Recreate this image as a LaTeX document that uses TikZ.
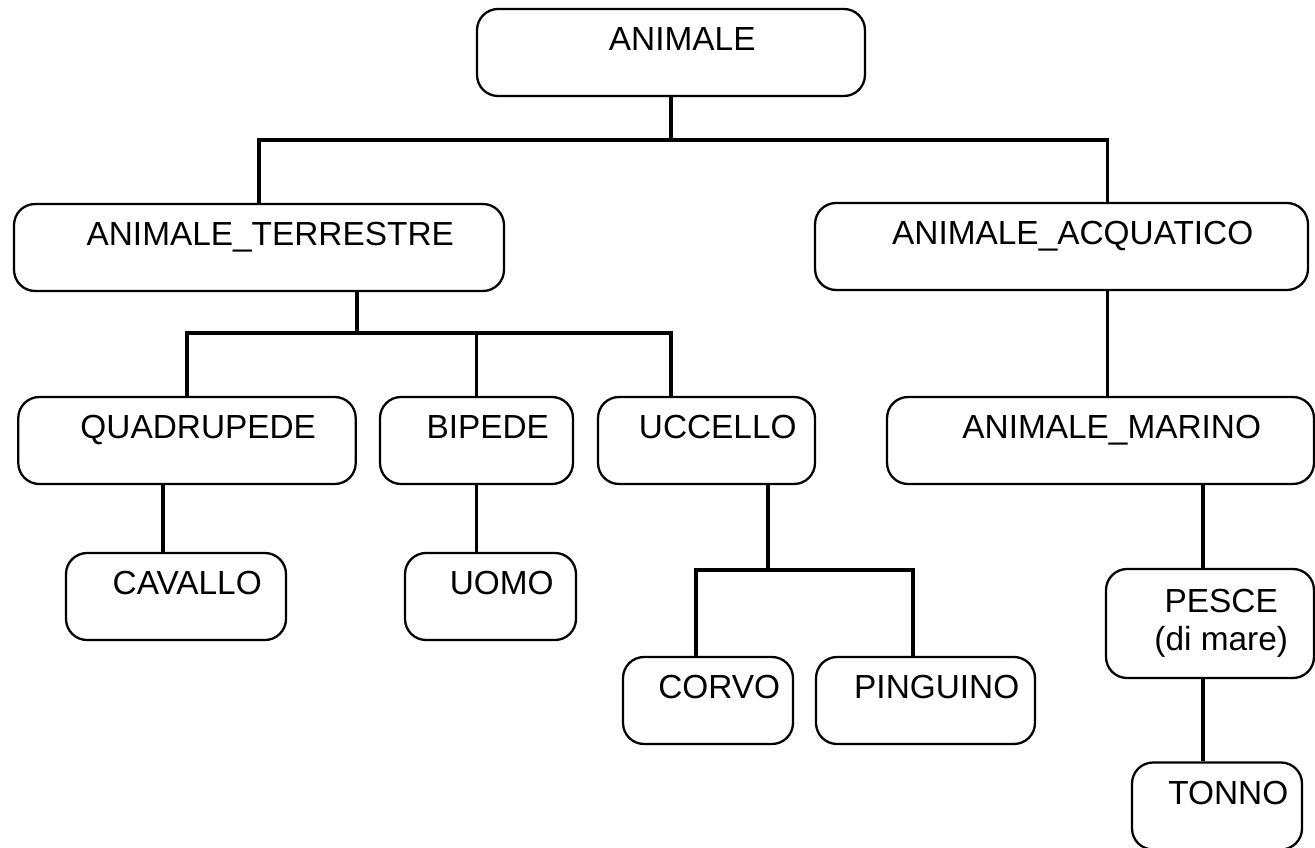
\documentclass[tikz,border=0pt]{standalone}
\usepackage{fontspec}
\setmainfont{Liberation Sans}

\begin{document}
\begin{tikzpicture}[x=0.02cm,y=-0.02cm,
  boxbase/.style={draw,line width=1.3pt,rounded corners=0.42cm,inner sep=0pt,
    font=\fontsize{19}{21.6}\selectfont},
  box/.style={boxbase,minimum height=1.74cm,text height=0.83cm,text depth=0.91cm,
    execute at begin node=\hspace*{0.45cm}},
  link/.style={line width=1.9pt}]
% Parameters
\def\pad{\hspace*{0.45cm}}

\useasboundingbox (0,0) rectangle (1315,848);

% Boxes
\node[box,minimum width=7.76cm] (animale) at (671,52.5) {ANIMALE};

\node[box,minimum width=9.8cm] (terrestre) at (259,247.5) {ANIMALE\_TERRESTRE};
\node[box,minimum width=9.86cm] (acquatico) at (1061.5,246.5) {ANIMALE\_ACQUATICO};

\node[box,minimum width=6.75cm] (quadrupede) at (187,440.5) {QUADRUPEDE};
\node[box,minimum width=3.86cm] (bipede) at (476.5,440.5) {BIPEDE};
\node[box,minimum width=4.34cm] (uccello) at (706.5,440.5) {UCCELLO};
\node[box,minimum width=8.54cm] (marino) at (1100.5,440.5) {ANIMALE\_MARINO};

\node[box,minimum width=4.4cm] (cavallo) at (176,596.5) {CAVALLO};
\node[box,minimum width=3.42cm] (uomo) at (490.5,596.5) {UOMO};
\node[boxbase,align=center,minimum width=4.16cm,minimum height=2.18cm] (pesce) at (1210,623.5) {\pad PESCE\\\pad(di mare)};

\node[box,minimum width=3.4cm] (corvo) at (708,700.5) {CORVO};
\node[box,minimum width=4.38cm] (pinguino) at (925.5,700.5) {PINGUINO};

\node[box,minimum width=3.4cm] (tonno) at (1217,806) {TONNO};

% Connectors
\draw[link] (animale.south) -- ++(0,43) coordinate (busA);
\draw[link] (terrestre.north) |- (busA) -| ([xshift=0.92cm]acquatico.north);

\draw[link] ([xshift=1.96cm]terrestre.south) -- ++(0,41) coordinate (busB);
\draw[link] (quadrupede.north) |- (busB) -| ([xshift=-0.71cm]uccello.north);
\draw[link] (bipede.north) -- (bipede.north |- busB);

\draw[link] ([xshift=0.92cm]acquatico.south) -- ([xshift=0.92cm]acquatico.south |- marino.north);

\draw[link] ([xshift=-0.48cm]quadrupede.south) -- ([xshift=-0.48cm]quadrupede.south |- cavallo.north);
\draw[link] (bipede.south) -- (bipede.south |- uomo.north);

\draw[link] ([xshift=1.23cm]uccello.south) -- ++(0,85) coordinate (busC);
\draw[link] ([xshift=-0.24cm]corvo.north) |- (busC) -| ([xshift=-0.25cm]pinguino.north);

\draw[link] ([xshift=2.05cm]marino.south) -- ([xshift=2.05cm]marino.south |- pesce.north);
\draw[link] ([xshift=-0.14cm]pesce.south) -- ([xshift=-0.14cm]pesce.south |- tonno.north);

\end{tikzpicture}
\end{document}
